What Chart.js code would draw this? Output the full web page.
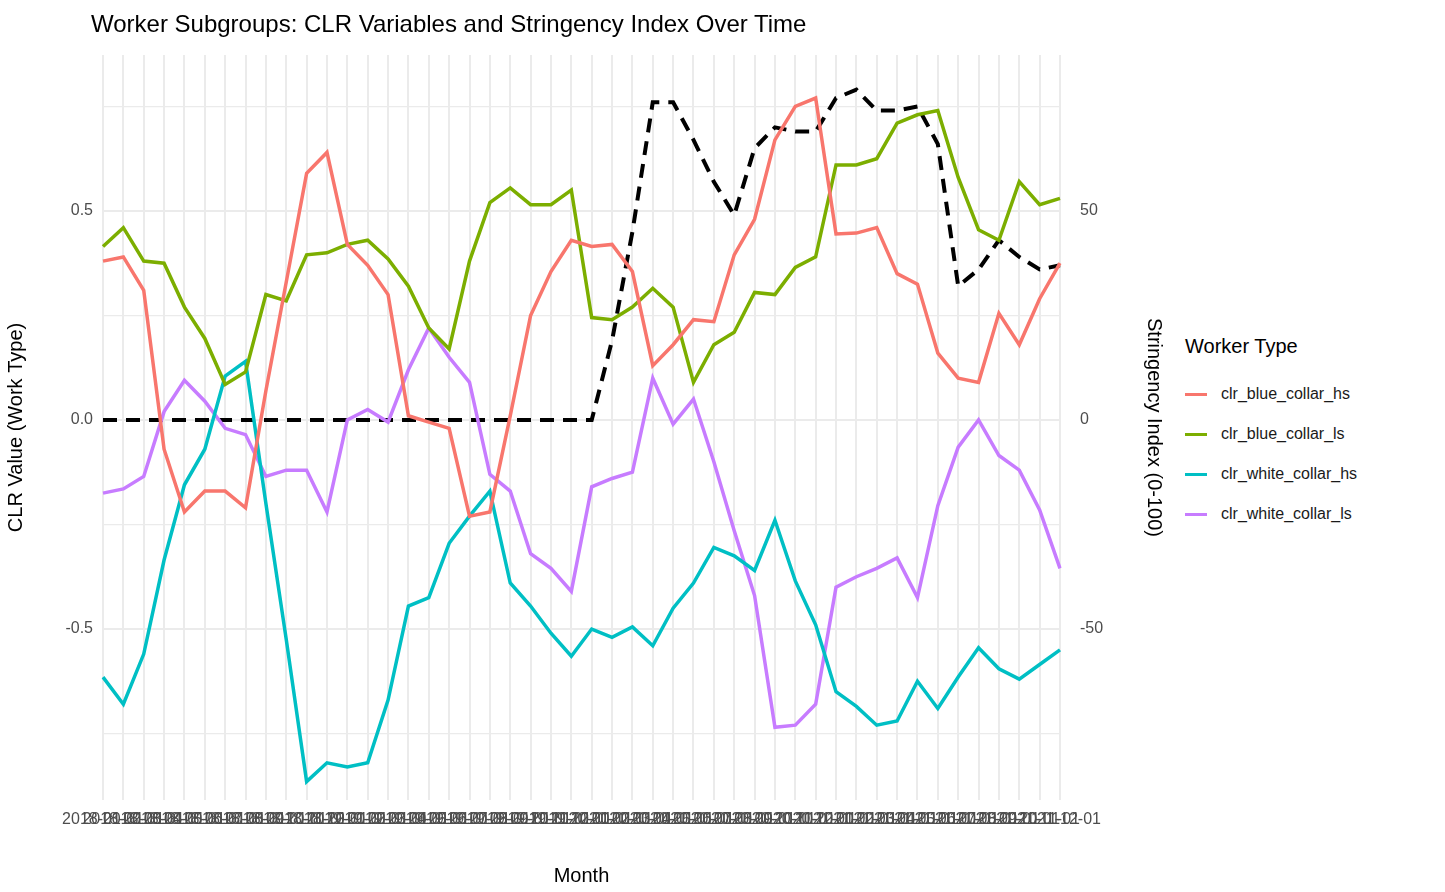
<!DOCTYPE html>
<html><head><meta charset="utf-8">
<script src="https://cdn.jsdelivr.net/npm/chart.js@4/dist/chart.umd.min.js"></script>
<style>
body{margin:0;background:#fff;font-family:"Liberation Sans",Arial,sans-serif;width:1445px;height:892px;overflow:hidden;position:relative}
#title{position:absolute;left:91px;top:10px;font-size:24px;color:#000}
#wrap{position:absolute;left:0;top:0;width:1170px;height:892px}
#legend{position:absolute;left:1185px;top:335px;color:#000}
#legend .t{font-size:20px;margin-bottom:16px}
#legend .r{display:flex;align-items:center;height:40px;font-size:16px;color:#1a1a1a}
#legend .sw{width:22px;height:3px;margin-right:14px}
</style></head><body>
<div id="wrap"><canvas id="c" width="1170" height="892"></canvas></div>
<div id="title">Worker Subgroups: CLR Variables and Stringency Index Over Time</div>
<div id="legend"><div class="t">Worker Type</div></div>
<script>
const months=[];for(let y=2018;y<=2021;y++)for(let m=1;m<=12;m++)months.push(y+'-'+String(m).padStart(2,'0')+'-01');
const blueHS=[0.38,0.39,0.31,-0.07,-0.22,-0.17,-0.17,-0.21,0.07,0.33,0.59,0.64,0.42,0.37,0.30,0.01,-0.005,-0.02,-0.23,-0.22,0.01,0.25,0.355,0.43,0.415,0.42,0.355,0.13,0.18,0.24,0.235,0.395,0.48,0.67,0.75,0.77,0.445,0.447,0.46,0.35,0.325,0.16,0.10,0.09,0.255,0.18,0.29,0.375];
const blueLS=[0.415,0.46,0.38,0.375,0.27,0.195,0.085,0.115,0.30,0.285,0.395,0.40,0.42,0.43,0.385,0.32,0.22,0.17,0.38,0.52,0.555,0.515,0.515,0.55,0.245,0.24,0.27,0.315,0.27,0.09,0.18,0.21,0.305,0.30,0.365,0.39,0.61,0.61,0.625,0.71,0.73,0.74,0.58,0.455,0.43,0.57,0.515,0.53];
const whiteHS=[-0.615,-0.68,-0.56,-0.335,-0.155,-0.07,0.105,0.14,-0.2,-0.525,-0.865,-0.82,-0.83,-0.82,-0.67,-0.445,-0.425,-0.295,-0.23,-0.17,-0.39,-0.445,-0.51,-0.565,-0.5,-0.52,-0.495,-0.54,-0.45,-0.39,-0.305,-0.325,-0.36,-0.24,-0.385,-0.49,-0.65,-0.685,-0.73,-0.72,-0.625,-0.69,-0.615,-0.545,-0.595,-0.62,-0.585,-0.55];
const whiteLS=[-0.175,-0.165,-0.135,0.02,0.095,0.045,-0.02,-0.035,-0.135,-0.12,-0.12,-0.22,0.0,0.025,-0.005,0.12,0.22,0.15,0.09,-0.13,-0.17,-0.32,-0.355,-0.41,-0.16,-0.14,-0.125,0.10,-0.01,0.05,-0.1,-0.265,-0.42,-0.735,-0.73,-0.68,-0.4,-0.375,-0.355,-0.33,-0.425,-0.205,-0.065,0.0,-0.085,-0.12,-0.215,-0.355];
const stringency=[0,0,0,0,0,0,0,0,0,0,0,0,0,0,0,0,0,0,0,0,0,0,0,0,0,19,45,76,76,67,57,49,65,70,69,69,77,79,74,74,75,66,32,36,43,39,36,37];
const leftTicks=[-0.75,-0.5,-0.25,0,0.25,0.5,0.75];
const rightTicks=[-50,0,50];
const series=[['clr_blue_collar_hs',blueHS,'#F8766D'],['clr_blue_collar_ls',blueLS,'#7CAE00'],['clr_white_collar_hs',whiteHS,'#00BFC4'],['clr_white_collar_ls',whiteLS,'#C77CFF']];
const lg=document.getElementById('legend');
series.forEach(s=>{const r=document.createElement('div');r.className='r';r.innerHTML='<div class="sw" style="background:'+s[2]+'"></div>'+s[0];lg.appendChild(r);});
const ds=series.map(s=>({label:s[0],data:s[1],borderColor:s[2],borderWidth:3.5,pointRadius:0,tension:0,yAxisID:'y',fill:false}));
ds.push({label:'Stringency',data:stringency,borderColor:'#000',borderWidth:4,borderDash:[14,9],pointRadius:0,yAxisID:'y2',fill:false});
const tf={family:'"Liberation Sans",Arial,sans-serif',size:16};
new Chart(document.getElementById('c'),{type:'line',data:{labels:months,datasets:ds},
options:{responsive:false,animation:false,devicePixelRatio:1,
layout:{padding:{top:55,left:0,right:0,bottom:0}},
plugins:{legend:{display:false},tooltip:{enabled:false}},
scales:{
x:{offset:false,grid:{color:'#ebebeb',lineWidth:2,drawTicks:false},border:{display:false},
 ticks:{autoSkip:false,maxRotation:0,minRotation:0,color:'#4d4d4d',font:tf,padding:10},
 title:{display:true,text:'Month',color:'#000',font:{family:tf.family,size:20},padding:{top:0}},
 afterFit:a=>{a.height=92;}},
y:{position:'left',min:-0.909,max:0.873,afterBuildTicks:a=>{a.ticks=leftTicks.map(v=>({value:v}));},
 grid:{color:'#ebebeb',lineWidth:ctx=>(ctx.tick&&Math.abs(ctx.tick.value*2-Math.round(ctx.tick.value*2))<1e-6)?2:1.2,drawTicks:false},border:{display:false},
 ticks:{color:'#4d4d4d',font:tf,padding:10,callback:v=>Math.abs(v*2-Math.round(v*2))<1e-6?v.toFixed(1):''},
 title:{display:true,text:'CLR Value (Work Type)',color:'#000',font:{family:tf.family,size:20}},
 afterFit:a=>{a.width=103;}},
y2:{position:'right',min:-90.9,max:87.3,afterBuildTicks:a=>{a.ticks=rightTicks.map(v=>({value:v}));},
 grid:{display:false},border:{display:false},
 ticks:{color:'#4d4d4d',font:tf,padding:12},
 title:{display:true,text:'Stringency Index (0-100)',color:'#000',font:{family:tf.family,size:20}},
 afterFit:a=>{a.width=110;}}
}}});
</script>
</body></html>
